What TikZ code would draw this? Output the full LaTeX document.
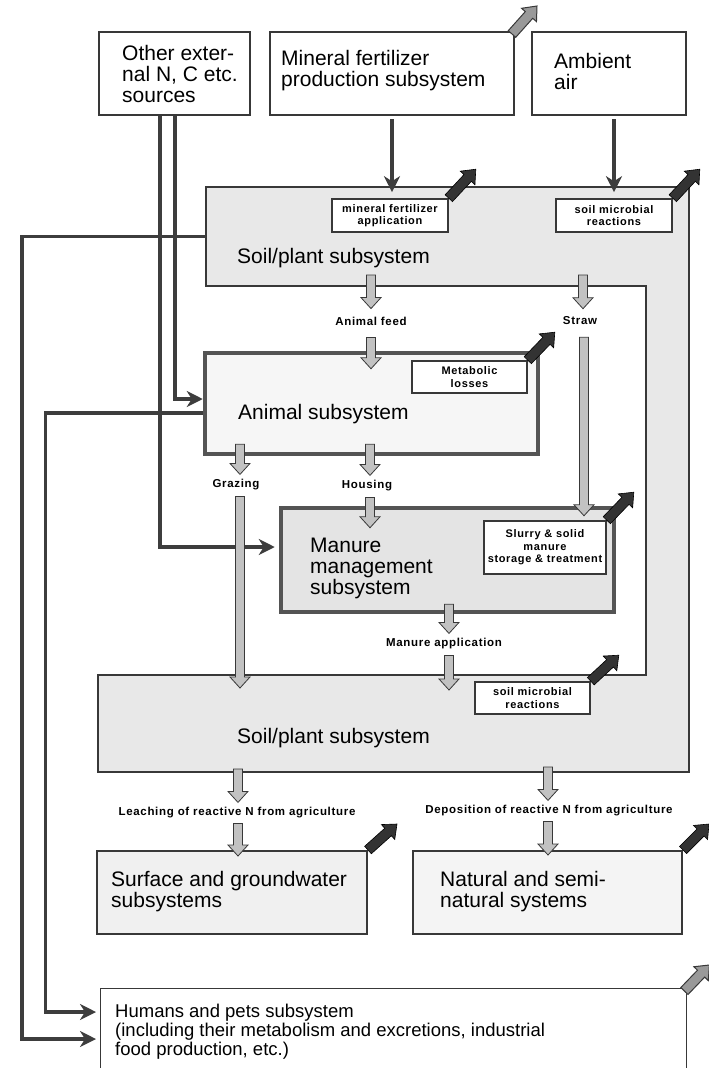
\documentclass[tikz,border=0pt]{standalone}
\usepackage{fontspec}
\setmainfont{Liberation Sans}
\newfontfamily\tagfont[LetterSpace=6]{Liberation Sans}
\usetikzlibrary{arrows.meta,calc,positioning}
\definecolor{edgegray}{gray}{0.22}
\definecolor{linegray}{gray}{0.24}
\definecolor{boldgray}{gray}{0.33}
\definecolor{soilgray}{gray}{0.91}
\definecolor{animalgray}{gray}{0.965}
\definecolor{manuregray}{gray}{0.895}
\definecolor{surfgray}{gray}{0.94}
\definecolor{natgray}{gray}{0.955}
\definecolor{flowgray}{gray}{0.76}
\definecolor{lossgray}{gray}{0.2}
\definecolor{exitgray}{gray}{0.6}

\begin{document}
\begin{tikzpicture}[x=1pt,y=-1pt, % one unit is one pixel of the layout, y runs downwards
		every node/.style={inner sep=0pt},
		sysbox/.style={draw=edgegray,line width=2pt,fill=white},
		heavybox/.style={draw=boldgray,line width=4.5pt},
		subbox/.style={draw=edgegray,line width=1.6pt,fill=white,align=center,font=\tagfont\bfseries\fontsize{11}{12.5}\selectfont},
		big/.style={align=left,font=\fontsize{21}{21}\selectfont},
		tag/.style={font=\tagfont\bfseries\fontsize{11.5}{13}\selectfont},
		conn/.style={draw=linegray,line width=3.2pt,-{Stealth[length=16pt,width=16pt,inset=5pt]}},
		% hollow grey flow arrow, always vertical at the x of its start
		flow/.style={draw=edgegray,line width=0.8pt,fill=flowgray,to path={let \p1=(\tikztostart),\p2=(\tikztotarget) in
				(\x1-4.5pt,\y1) -- (\x1+4.5pt,\y1) -- (\x1+4.5pt,\y2+11pt) -- (\x1+10pt,\y2+11pt) -- (\x1,\y2)
				-- (\x1-10pt,\y2+11pt) -- (\x1-4.5pt,\y2+11pt) -- cycle}},
		% block arrow in any direction (losses leaving a subsystem)
		block/.style={to path={let \p1=(\tikztostart),\p2=(\tikztotarget),\n1={atan2(\y2-\y1,\x2-\x1)} in
				($(\p1)+(\n1+90:5pt)$) -- ($(\p2)+(\n1+180:12pt)+(\n1+90:5pt)$) -- ($(\p2)+(\n1+180:12pt)+(\n1+90:10pt)$) -- (\p2)
				-- ($(\p2)+(\n1+180:12pt)+(\n1-90:10pt)$) -- ($(\p2)+(\n1+180:12pt)+(\n1-90:5pt)$) -- ($(\p1)+(\n1-90:5pt)$) -- cycle}},
		loss/.style={block,fill=lossgray,draw=black,line width=0.6pt},
		exit/.style={block,fill=exitgray,draw=edgegray,line width=1pt}
	]
	\useasboundingbox (0,0) rectangle (709,1068);
	\clip (0,0) rectangle (709,1068);

	% soil/plant subsystem, wrapped round the animal and manure parts
	\draw[draw=edgegray,line width=2pt,fill=soilgray] (206,187) coordinate (soilNW) -- (689,187) -- (689,772) -- (98,772) coordinate (soilBot)
		-- (98,675) coordinate (soilLow) -- (646,675) -- (646,286) -- (206,286) coordinate (soilIn) -- cycle;
	\coordinate (soilW) at ($(soilNW)!0.5!(soilIn)$);

	\node[sysbox,minimum width=151pt,minimum height=83pt](other) at (174.5,73.5){};
	\node[sysbox,minimum width=244pt,minimum height=83pt](mineral) at (392,73.5){};
	\node[sysbox,minimum width=154pt,minimum height=83pt](ambient) at (609,73.5){};
	\node[subbox,minimum width=116pt,minimum height=33pt](mfa) at (390,215.5){mineral fertilizer\\application};
	\node[subbox,minimum width=116pt,minimum height=33pt](micro1) at (614,215.5){soil microbial\\reactions};
	\node[heavybox,fill=animalgray,minimum width=333pt,minimum height=101pt](animal) at (371.5,403.5){};
	\node[subbox,minimum width=115pt,minimum height=32pt](metab) at (469.5,377){Metabolic\\losses};
	\node[heavybox,fill=manuregray,minimum width=333pt,minimum height=104pt](manure) at (447.5,560){};
	\node[subbox,minimum width=122pt,minimum height=53pt](slurry) at (545,547.5){Slurry \& solid\\manure\\storage \& treatment};
	\node[subbox,minimum width=115pt,minimum height=32pt](micro2) at (532.5,698){soil microbial\\reactions};
	\node[sysbox,fill=surfgray,minimum width=270pt,minimum height=83pt](surface) at (232,892.5){};
	\node[sysbox,fill=natgray,minimum width=269pt,minimum height=83pt](natural) at (547.5,892.5){};
	\node[sysbox,line width=1.4pt,minimum width=586pt,minimum height=100pt,anchor=north west](humans) at (100,988){};

	\node[big,anchor=west](othertxt) at (122,74){Other exter-\\nal N, C etc.\\sources};
	\node[big,anchor=west](mineraltxt) at (281,71){Mineral fertilizer\\production subsystem};
	\node[big,anchor=west](ambienttxt) at (554,71){Ambient\\air};
	\node[big,anchor=west](soiltxt1) at (237,258){Soil/plant subsystem};
	\node[big,anchor=west](animaltxt) at (238,414){Animal subsystem};
	\node[big,anchor=west](manuretxt) at (310,568){Manure\\management\\subsystem};
	\node[big,anchor=west](soiltxt2) at (237,738){Soil/plant subsystem};
	\node[big,anchor=west](surfacetxt) at (111,892){Surface and groundwater\\subsystems};
	\node[big,anchor=west](naturaltxt) at (440,892){Natural and semi-\\natural systems};
	\node[anchor=west,align=left,font=\fontsize{18.5}{19}\selectfont](humanstxt) at (115,1032){Humans and pets subsystem\\(including their metabolism and excretions, industrial\\food production, etc.)};

	\node[tag](feed) at (371,321){Animal feed};
	\node[tag](straw) at (580,321){Straw};
	\node[tag](grazing) at (236,485){Grazing};
	\node[tag](housing) at (367,486){Housing};
	\node[tag](manapp) at (444,644){Manure application};
	\node[tag](leach) at (237,813){Leaching of reactive N from agriculture};
	\node[tag](depos) at (549,811){Deposition of reactive N from agriculture};

	% inputs and links to the humans subsystem
	\draw[conn,shorten <=3pt,shorten >=6pt] (mineral.south) -- (mineral.south |- mfa.north);
	\draw[conn,shorten <=3pt,shorten >=6pt] (ambient.south -| micro1) -- (micro1.north);
	\draw[conn] ($(other.south west)+(77,0)$) |- ($(animal.west)+(0,-4.5)$);
	\draw[conn,shorten >=4pt] ($(other.south west)+(62,0)$) |- ($(manure.west)+(0,-13)$);
	\draw[conn] (soilW) -- ++(-184,0) |- ($(humans.north west)+(-4,51)$);
	\draw[conn] ($(animal.west)+(0,9.5)$) -- ++(-157,0) |- ($(humans.north west)+(-4,24)$);

	% losses
	\path[exit] ($(mineral.north east)+(-3,3)$) to ($(mineral.north east)+(22,-25)$);
	\path[exit] ($(humans.north east)+(-3,3)$) to ($(humans.north east)+(22,-23)$);
	\path[loss] (mfa.north east) to ($(mfa.north east)+(27,-29)$);
	\path[loss] (micro1.north east) to ($(micro1.north east)+(27,-29)$);
	\path[loss] (metab.north east) to ($(metab.north east)+(27,-28)$);
	\path[loss] (slurry.north east) to ($(slurry.north east)+(27,-28)$);
	\path[loss] (micro2.north east) to ($(micro2.north east)+(28,-26)$);
	\path[loss] (surface.north east) to ($(surface.north east)+(29,-26)$);
	\path[loss] (natural.north east) to ($(natural.north east)+(26,-26)$);

	% nitrogen flows
	\path[flow] ($(feed |- soilIn)+(0,-11)$) to ($(feed.north)+(0,-8)$);
	\path[flow] ($(straw |- soilIn)+(3,-11)$) to ($(straw.north)+(3,-8)$);
	\path[flow] ($(feed.south)+(0,12)$) to ($(feed |- animal.north)+(0,18)$);
	\path[flow] ($(straw.south)+(4,12)$) to ($(straw |- manure.north)+(4,10)$);
	\path[flow] ($(grazing |- animal.south)+(4,-12)$) to ($(grazing.north)+(4,-5)$);
	\path[flow] ($(housing |- animal.south)+(3,-12)$) to ($(housing.north)+(3,-5)$);
	\path[flow] ($(grazing.south)+(4,6)$) to ($(grazing |- soilLow)+(4,13)$);
	\path[flow] ($(housing.south)+(3,6)$) to ($(housing |- manure.north)+(3,22)$);
	\path[flow] ($(manapp |- manure.south)+(5,-10)$) to ($(manapp.north)+(5,-5)$);
	\path[flow] ($(manapp.south)+(5,6)$) to ($(manapp |- soilLow)+(5,15)$);
	\path[flow] ($(leach |- soilBot)+(1,-3)$) to ($(leach.north)+(1,-5)$);
	\path[flow] ($(depos |- soilBot)+(-1,-5)$) to ($(depos.north)+(-1,-5)$);
	\path[flow] ($(leach.south)+(1,5)$) to ($(leach |- surface.north)+(1,6)$);
	\path[flow] ($(depos.south)+(-1,5)$) to ($(depos |- natural.north)+(-1,5)$);
\end{tikzpicture}
\end{document}
